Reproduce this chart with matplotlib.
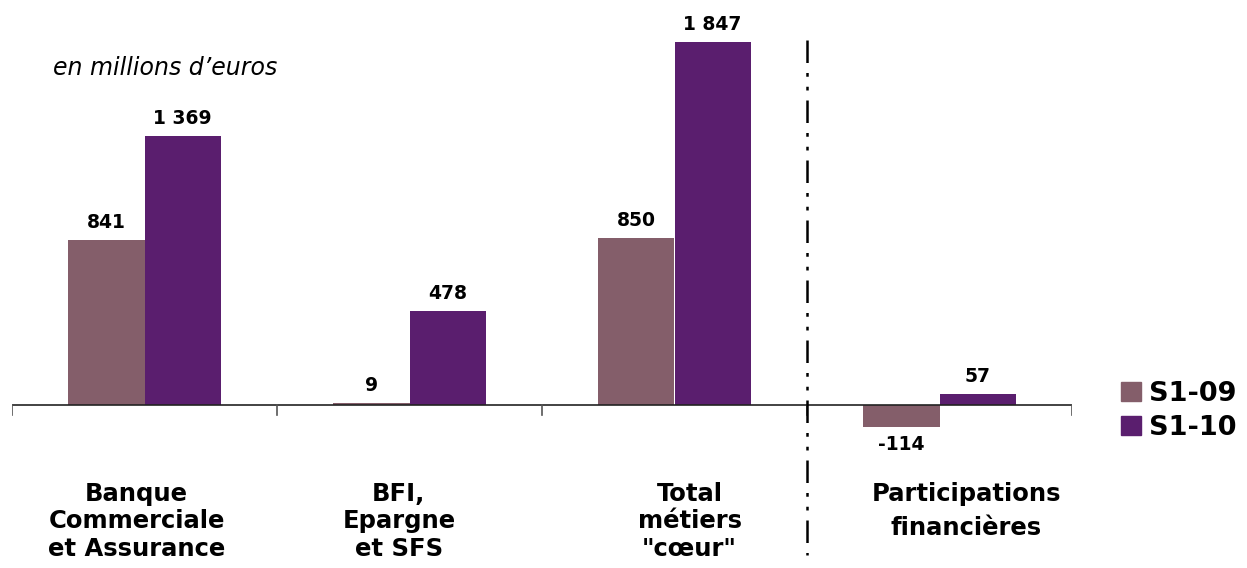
import matplotlib.pyplot as plt
import numpy as np
from matplotlib.patches import Patch

# data (en millions d'euros)
categories = ['Banque\nCommerciale\net Assurance', 'BFI,\nEpargne\net SFS',
              'Total\nmétiers\n"cœur"', 'Participations\nfinancières']
s1_09 = [841, 9, 850, -114]
s1_10 = [1369, 478, 1847, 57]
series_names = ['S1-09', 'S1-10']

col_09 = '#845e6a'
col_10 = '#5a1e6e'

fig = plt.figure(figsize=(12.47, 5.68), dpi=100)
ax = fig.add_axes([12 / 1247, 0, 1060 / 1247, 1])
ax.set_xlim(-0.5, 3.5)
ax.set_ylim(-830, 2061)
ax.axis('off')

x = np.arange(len(categories))
w = 0.287
b1 = ax.bar(x - w / 2, s1_09, w, color=col_09, linewidth=0)
b2 = ax.bar(x + w / 2, s1_10, w, color=col_10, linewidth=0)

# value labels
def fmt(v):
    return f'{v:,}'.replace(',', ' ')

for bars, vals in [(b1, s1_09), (b2, s1_10)]:
    for b, v in zip(bars, vals):
        cx = b.get_x() + b.get_width() / 2
        if v >= 0:
            ax.text(cx, v + 40, fmt(v), ha='center', va='bottom',
                    fontsize=13.5, fontweight='bold')
        else:
            ax.text(cx, v - 40, fmt(v), ha='center', va='top',
                    fontsize=13.5, fontweight='bold')

# axis line with category ticks
ax.axhline(0, color='#222222', lw=1.2, xmin=0, xmax=1)
for t in np.arange(-0.5, 4, 1):
    ax.plot([t, t], [0, -50], color='#555555', lw=1.2)

# dash-dot separator
ax.plot([2.5, 2.5], [1857, -763], color='black', lw=1.8,
        dashes=(9, 4, 1.5, 4, 1.5, 4))

# category labels (slightly shifted like the original)
label_shift = [-0.03, -0.04, 0.057, 0.1]
spacing = [1.2, 1.2, 1.2, 1.55]
for xi, lab, dx, ls in zip(x, categories, label_shift, spacing):
    ax.text(xi + dx, -390, lab, ha='center', va='top', fontsize=17.5,
            fontweight='bold', linespacing=ls)

fig.text(53 / 1247, 1 - 68 / 568, 'en millions d\u2019euros', ha='left',
         va='center', fontsize=17, style='italic')

handles = [Patch(color=col_09), Patch(color=col_10)]
fig.legend(handles, series_names, loc='center left',
           bbox_to_anchor=(1121 / 1247, 1 - 411 / 568), frameon=False,
           borderaxespad=0, borderpad=0,
           handlelength=0.72, handleheight=0.72, handletextpad=0.33,
           labelspacing=0.3, prop={'size': 19.5, 'weight': 'bold'})

fig.savefig('out.png', dpi=100)
